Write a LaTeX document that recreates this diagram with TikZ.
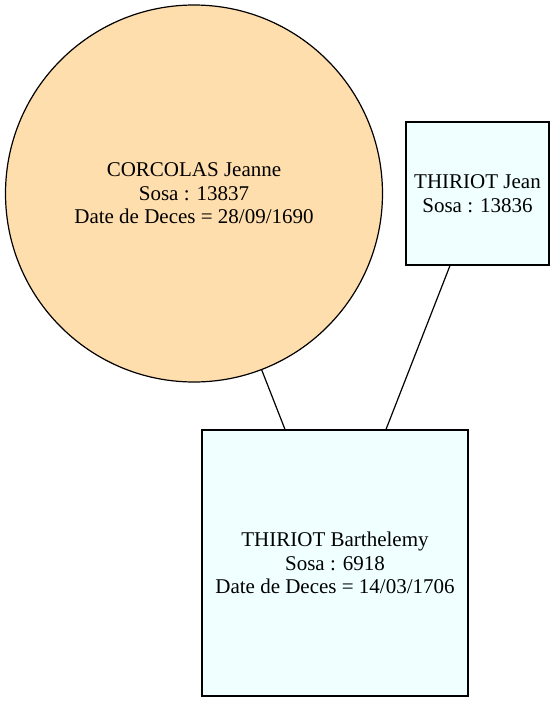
\documentclass[tikz,border=0pt]{standalone}
\usepackage{fontspec}
\setmainfont{Liberation Serif}
\definecolor{navajo}{HTML}{FFDEAD}
\definecolor{azurebox}{HTML}{F0FFFF}
\begin{document}
\begin{tikzpicture}[x=1pt,y=1pt,
  person/.style={draw=black, line width=1.2pt, align=center, inner sep=0pt,
    font=\fontsize{21}{23.5}\selectfont},
  circ/.style={person, circle, fill=navajo, minimum size=377pt},
  sq/.style={person, rectangle, fill=azurebox},
  link/.style={draw=black, line width=1.2pt}]
\useasboundingbox (0,0) rectangle (555,-702);
\node[circ] (jeanne) at (194,-193.5) {CORCOLAS Jeanne\\Sosa : 13837\\Date de Deces = 28/09/1690};
\node[sq, minimum width=143pt, minimum height=143pt] (jean) at (477.5,-193.5) {THIRIOT Jean\\Sosa : 13836};
\node[sq, minimum width=266pt, minimum height=266pt] (bart) at (335,-563) {THIRIOT Barthelemy\\Sosa : 6918\\Date de Deces = 14/03/1706};
\draw[link] (jeanne.-69.3) -- ([xshift=-50pt]bart.north);
\draw[link] ([xshift=-27.5pt]jean.south) -- ([xshift=51pt]bart.north);
\end{tikzpicture}
\end{document}
